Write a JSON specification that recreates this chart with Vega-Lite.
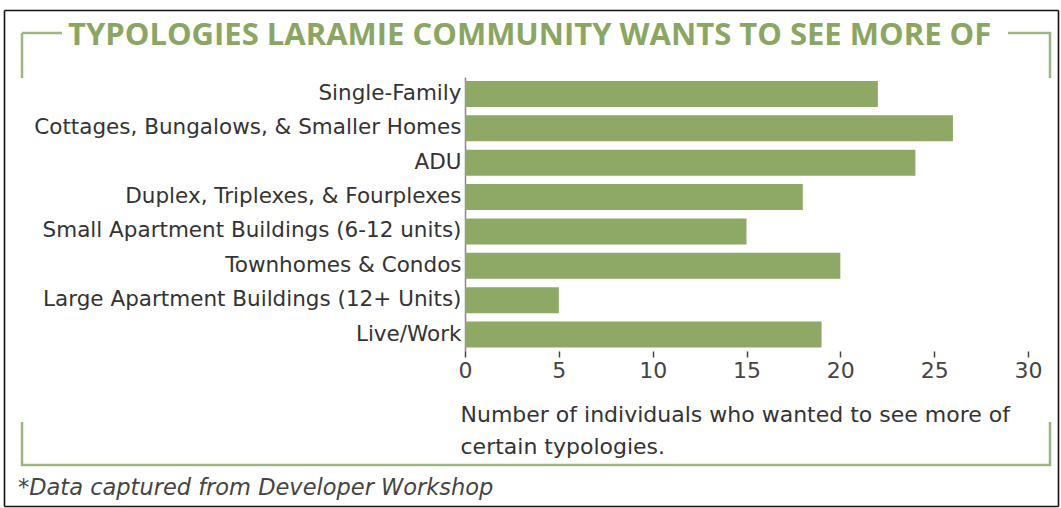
{
  "$schema": "https://vega.github.io/schema/vega-lite/v6.json",
  "autosize": "none",
  "padding": {"left": 22, "top": 33, "right": 11, "bottom": 43},
  "width": 1028,
  "height": 432,
  "background": "white",
  "view": {
    "stroke": "#9DB580",
    "strokeWidth": 2.5,
    "strokeDash": [40, 946, 87, 344, 1114, 344, 45, 0]
  },
  "title": {
    "text": "TYPOLOGIES LARAMIE COMMUNITY WANTS TO SEE MORE OF",
    "subtitle": "*Data captured from Developer Workshop",
    "anchor": "start",
    "frame": "group",
    "orient": "top",
    "offset": -485,
    "dx": -4,
    "encoding": {"dx": {"value": 46}, "dy": {"value": 5}},
    "font": "Open Sans",
    "fontSize": 31,
    "fontWeight": 700,
    "color": "#8BA562",
    "subtitleFont": "DejaVu Sans",
    "subtitleFontSize": 22.5,
    "subtitleFontStyle": "italic",
    "subtitleColor": "#444444",
    "subtitlePadding": 430
  },
  "data": {
    "values": [
      {"typology": "Single-Family", "count": 22},
      {"typology": "Cottages, Bungalows, & Smaller Homes", "count": 26},
      {"typology": "ADU", "count": 24},
      {"typology": "Duplex, Triplexes, & Fourplexes", "count": 18},
      {"typology": "Small Apartment Buildings (6-12 units)", "count": 15},
      {"typology": "Townhomes & Condos", "count": 20},
      {"typology": "Large Apartment Buildings (12+ Units)", "count": 5},
      {"typology": "Live/Work", "count": 19}
    ]
  },
  "layer": [
    {
      "mark": {"type": "bar", "color": "#8EA866"},
      "encoding": {
        "y": {
          "field": "typology",
          "type": "nominal",
          "sort": null,
          "scale": {"range": [44, 318.5], "paddingInner": 0.243, "paddingOuter": 0.116},
          "axis": {
            "title": null,
            "orient": "left",
            "offset": -443,
            "domainColor": "#888888",
            "domainWidth": 1.5,
            "ticks": false,
            "tickSize": 0,
            "labelPadding": 4,
            "labelFont": "DejaVu Sans",
            "labelFontSize": 21.5,
            "labelColor": "#333333",
            "labelLimit": 600,
            "grid": false
          }
        },
        "x": {
          "field": "count",
          "type": "quantitative",
          "scale": {"domain": [0, 30], "range": [443, 1006], "nice": false},
          "axis": {
            "title": ["Number of individuals who wanted to see more of", "certain typologies."],
            "orient": "bottom",
            "offset": -114,
            "values": [0, 5, 10, 15, 20, 25, 30],
            "domain": false,
            "ticks": true,
            "tickSize": 6,
            "tickColor": "#444444",
            "tickWidth": 1.5,
            "labelPadding": 3,
            "labelFlush": false,
            "labelFont": "DejaVu Sans",
            "labelFontSize": 22,
            "labelColor": "#444444",
            "grid": false,
            "titleX": 438,
            "titleY": 70,
            "titleAlign": "left",
            "titleAnchor": "start",
            "titleBaseline": "alphabetic",
            "titleFont": "DejaVu Sans",
            "titleFontSize": 22,
            "titleFontWeight": "normal",
            "titleColor": "#333333",
            "titleLineHeight": 32
          }
        }
      }
    },
    {
      "mark": {"type": "point", "opacity": 0},
      "encoding": {
        "x": {
          "field": "count",
          "type": "quantitative",
          "scale": {"domain": [0, 30], "range": [-18, 1036], "nice": false},
          "axis": {"orient": "top", "offset": 23, "domainColor": "#111111", "domainWidth": 1.6, "ticks": false, "labels": false, "title": null, "grid": false}
        },
        "y": {
          "field": "typology",
          "type": "nominal",
          "sort": null,
          "scale": {"range": [-23, 473]},
          "axis": {"orient": "left", "offset": 18, "domainColor": "#111111", "domainWidth": 1.6, "ticks": false, "labels": false, "title": null, "grid": false}
        }
      }
    },
    {
      "mark": {"type": "point", "opacity": 0},
      "encoding": {
        "x": {
          "field": "count",
          "type": "quantitative",
          "scale": {"domain": [0, 30], "range": [-18, 1036], "nice": false},
          "axis": {"orient": "bottom", "offset": 41, "domainColor": "#111111", "domainWidth": 1.6, "ticks": false, "labels": false, "title": null, "grid": false}
        },
        "y": {
          "field": "typology",
          "type": "nominal",
          "sort": null,
          "scale": {"range": [-23, 473]},
          "axis": {"orient": "right", "offset": 8, "domainColor": "#111111", "domainWidth": 1.6, "ticks": false, "labels": false, "title": null, "grid": false}
        }
      }
    }
  ],
  "resolve": {
    "scale": {"x": "independent", "y": "independent"},
    "axis": {"x": "independent", "y": "independent"}
  }
}
